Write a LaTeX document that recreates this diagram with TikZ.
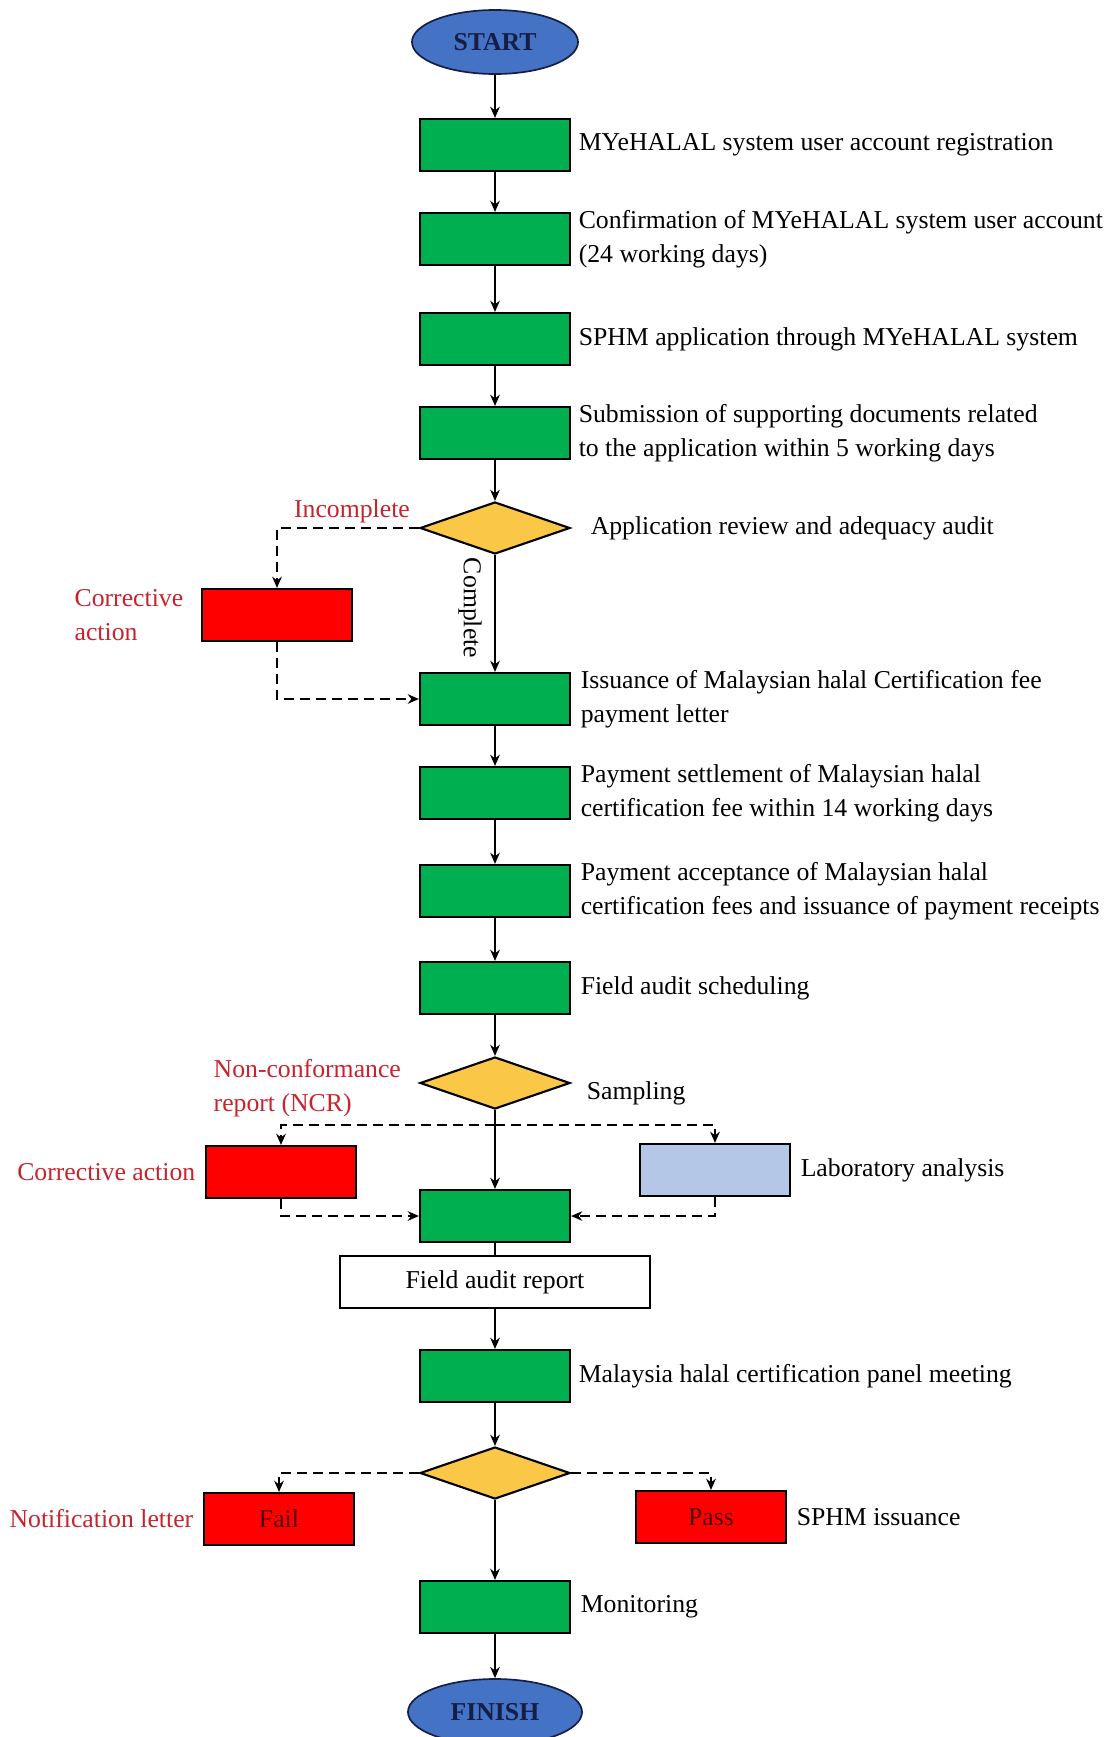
\documentclass[tikz,border=0pt]{standalone}
\usepackage{fontspec}
\setmainfont{Liberation Serif}
\usepackage{tikz}
\usetikzlibrary{positioning,shapes.geometric,arrows.meta}

\definecolor{boxgreen}{RGB}{0,176,80}
\definecolor{boxred}{RGB}{255,0,0}
\definecolor{diagyellow}{RGB}{250,200,70}
\definecolor{labblue}{RGB}{180,199,231}
\definecolor{ovalblue}{RGB}{68,114,196}
\definecolor{ovalnavy}{RGB}{20,30,70}
\definecolor{notered}{RGB}{200,35,45}
\definecolor{darkmaroon}{RGB}{80,0,0}

\newcommand{\flowfont}{\fontsize{18.3}{24}\selectfont}

\tikzset{
  gbox/.style={draw, line width=1.5pt, fill=boxgreen, minimum width=3.75cm, minimum height=1.3cm, inner sep=0},
  rbox/.style={gbox, fill=boxred, text=darkmaroon},
  lbox/.style={gbox, fill=labblue},
  wbox/.style={gbox, fill=white, minimum width=7.75cm},
  decide/.style={diamond, draw, line width=1.5pt, fill=diagyellow, minimum width=3.75cm, minimum height=1.3cm, inner sep=0},
  oval/.style={ellipse, draw=ovalnavy, line width=1.2pt, fill=ovalblue, minimum width=4.15cm, minimum height=1.6cm, font=\flowfont\bfseries, text=ovalnavy},
  note/.style={inner sep=1pt, align=left},
  rnote/.style={note, text=notered},
  arr/.style={line width=1.5pt, -{Stealth[length=2.8mm,width=2.4mm]}},
  darr/.style={arr, dash pattern=on 2.4mm off 1.6mm},
}

\begin{document}
\begin{tikzpicture}[x=0.025cm,y=-0.025cm,font=\flowfont]
\useasboundingbox (0,0) rectangle (1110,1737);

% main column
\node[oval] (start) at (495,42) {START};
\node[gbox] (reg) at (495,145) {};
\node[gbox] (conf) at (495,239) {};
\node[gbox] (appl) at (495,339) {};
\node[gbox] (subm) at (495,433) {};
\node[decide] (review) at (495,528) {};
\node[gbox] (issue) at (495,699) {};
\node[gbox] (settle) at (495,793) {};
\node[gbox] (accept) at (495,891) {};
\node[gbox] (sched) at (495,988) {};
\node[decide] (sampl) at (495,1083) {};
\node[gbox] (audit) at (495,1216) {};
\node[wbox] (report) at (495,1282) {Field audit report};
\node[gbox] (panel) at (495,1376) {};
\node[decide] (result) at (495,1473) {};
\node[gbox] (monit) at (495,1607) {};
\node[oval, minimum width=4.35cm, minimum height=1.65cm] (finish) at (495,1712) {FINISH};

% side boxes
\node[rbox] (corrA) at (277,615) {};
\node[rbox] (corrB) at (281,1172) {};
\node[lbox] (lab) at (715,1170) {};
\node[rbox] (fail) at (279,1519) {Fail};
\node[rbox] (pass) at (711,1517) {Pass};

% texts
\node[note, right=1.5mm of reg] {MYeHALAL system user account registration};
\node[note, right=1.5mm of conf] {Confirmation of MYeHALAL system user account\\(24 working days)};
\node[note, right=1.5mm of appl] {SPHM application through MYeHALAL system};
\node[note, right=1.5mm of subm] {Submission of supporting documents related\\to the application within 5 working days};
\node[note, right=4.5mm of review] {Application review and adequacy audit};
\node[note, right=2mm of issue] {Issuance of Malaysian halal Certification fee\\payment letter};
\node[note, right=2mm of settle] {Payment settlement of Malaysian halal\\certification fee within 14 working days};
\node[note, right=2mm of accept] {Payment acceptance of Malaysian halal\\certification fees and issuance of payment receipts};
\node[note, right=2mm of sched] {Field audit scheduling};
\node[note, right=3.5mm of sampl, yshift=-2.5mm] {Sampling};
\node[note, right=2mm of lab] {Laboratory analysis};
\node[note, right=1.5mm of panel] {Malaysia halal certification panel meeting};
\node[note, right=2mm of pass] {SPHM issuance};
\node[note, right=2mm of monit] {Monitoring};
\node[rotate=-90] (compl) at (470,608) {Complete};

\node[rnote] (incompl) at (352,511) {Incomplete};
\node[rnote, left=4mm of corrA] {Corrective\\action};
\node[rnote, anchor=west] (ncr) at (212,1088) {Non-conformance\\report (NCR)};
\node[rnote, left=2mm of corrB] {Corrective action};
\node[rnote, left=2mm of fail] {Notification letter};

% connectors
\draw[arr] (start) -- (reg);
\draw[arr] (reg) -- (conf);
\draw[arr] (conf) -- (appl);
\draw[arr] (appl) -- (subm);
\draw[arr] (subm) -- (review);
\draw[arr] (review) -- (issue);
\draw[darr] (review.west) -| (corrA.north);
\draw[darr] (corrA.south) |- (issue.west);
\draw[arr] (issue) -- (settle);
\draw[arr] (settle) -- (accept);
\draw[arr] (accept) -- (sched);
\draw[arr] (sched) -- (sampl);
\draw[arr] (sampl) -- (audit);
\coordinate (split) at (495,1125);
\draw[darr] (split) -| (corrB.north);
\draw[darr] (split) -| (lab.north);
\draw[darr] (corrB.south) |- (audit.west);
\draw[darr] (lab.south) |- (audit.east);
\draw[line width=1.5pt] (audit) -- (report);
\draw[arr] (report) -- (panel);
\draw[arr] (panel) -- (result);
\draw[darr] (result.west) -| (fail.north);
\draw[darr] (result.east) -| (pass.north);
\draw[arr] (result) -- (monit);
\draw[arr] (monit) -- (finish);

\end{tikzpicture}
\end{document}
